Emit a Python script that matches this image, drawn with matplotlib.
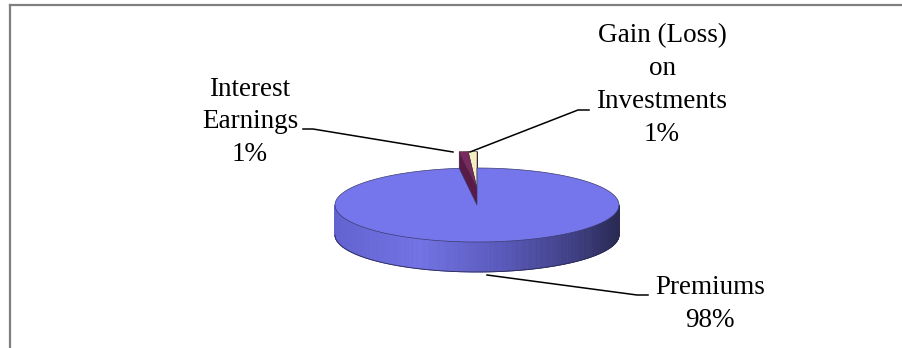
import numpy as np
import matplotlib
matplotlib.use("Agg")
import matplotlib.pyplot as plt
from matplotlib.patches import Polygon
from matplotlib.collections import PolyCollection
from matplotlib.lines import Line2D

# ---- data ----
categories = ["Gain (Loss)\non\nInvestments", "Interest\nEarnings", "Premiums"]
values = [1, 1, 98]
pct_labels = ["1%", "1%", "98%"]
explode = [0.45, 0.45, 0.0]

# ---- style / geometry ----
W, H = 902, 348
cx, cy = 477, 205          # centre of top surface (pixels)
rx, ry = 142, 37           # ellipse radii
depth = 30
start_deg = 90.0
top_colors = ["#F2EEC2", "#7A2A62", "#7676EC"]
side_colors = ["#BDB58A", "#5A1A48", None]

fig = plt.figure(figsize=(W / 100, H / 100), dpi=100)
ax = fig.add_axes([0, 0, 1, 1])
ax.set_xlim(0, W)
ax.set_ylim(H, 0)
ax.axis("off")

# chart frame
ax.add_line(Line2D([10, W], [5, 5], color="#7F7F7F", lw=1.6))
ax.add_line(Line2D([10, 10], [5, H], color="#7F7F7F", lw=1.6))

total = float(sum(values))
angles = []
a = start_deg
for v in values:
    span = 360.0 * v / total
    angles.append((a, a + span))
    a += span


def pt(theta_deg, r=1.0, off=(0.0, 0.0), z=0.0):
    t = np.radians(theta_deg)
    return (cx + rx * r * np.cos(t) + off[0], cy - ry * r * np.sin(t) + off[1] + z)


def offset(i):
    return (0.0, -ry * explode[i])


# ---- small exploded slices (behind) ----
for i in [0, 1]:
    a0, a1 = angles[i]
    off = offset(i)
    for ang in (a0, a1):
        face = [pt(ang, 0, off), pt(ang, 1, off), pt(ang, 1, off, depth), pt(ang, 0, off, depth)]
        ax.add_patch(Polygon(face, closed=True, fc=side_colors[i], ec="#3a2030", lw=0.4))
for i in [0, 1]:
    a0, a1 = angles[i]
    off = offset(i)
    th = np.linspace(a0, a1, 10)
    poly = [pt(a0, 0, off)] + [pt(t, 1, off) for t in th]
    ax.add_patch(Polygon(poly, closed=True, fc=top_colors[i], ec="#4a3040", lw=0.4))

# ---- big slice side wall with gradient ----
stops_x = np.array([-1.0, -0.4, 0.2, 0.7, 1.0])
stops_c = np.array([[98, 98, 208], [114, 114, 228], [88, 88, 185], [62, 62, 130], [42, 42, 84]]) / 255.0
a0, a1 = angles[2]
N = 240
th = np.linspace(180, 360, N + 1)
polys, cols = [], []
for k in range(N):
    ta, tb = th[k], th[k + 1]
    polys.append([pt(ta), pt(tb), pt(tb, z=depth), pt(ta, z=depth)])
    xm = np.cos(np.radians((ta + tb) / 2))
    cols.append([np.interp(xm, stops_x, stops_c[:, j]) for j in range(3)])
ax.add_collection(PolyCollection(polys, facecolors=cols, edgecolors=cols, lw=0.6))
bt = np.linspace(180, 360, 200)
bx = [pt(t, z=depth) for t in bt]
ax.add_line(Line2D([p[0] for p in bx], [p[1] for p in bx], color="#2a2a50", lw=0.6))

# ---- big slice top ----
th = np.linspace(a0, a1, 400)
poly = [pt(a0, 0)] + [pt(t) for t in th]
ax.add_patch(Polygon(poly, closed=True, fc=top_colors[2], ec="#3a3a70", lw=0.5))

# ---- labels ----
font = dict(family="Liberation Serif", size=19.5, ha="center", va="center", linespacing=1.42)
label_pos = [(662, 85), (250, 122), (710, 304)]
for i in range(3):
    ax.text(label_pos[i][0], label_pos[i][1], categories[i] + "\n" + pct_labels[i], **font)

leaders = [
    ([589, 578, 470], [110, 110, 152]),
    ([303, 313, 453], [129, 129, 152]),
    ([487, 637, 648], [275, 295, 295]),
]
for xs, ys in leaders:
    ax.add_line(Line2D(xs, ys, color="black", lw=1.1))

fig.savefig("out.png", dpi=100)
